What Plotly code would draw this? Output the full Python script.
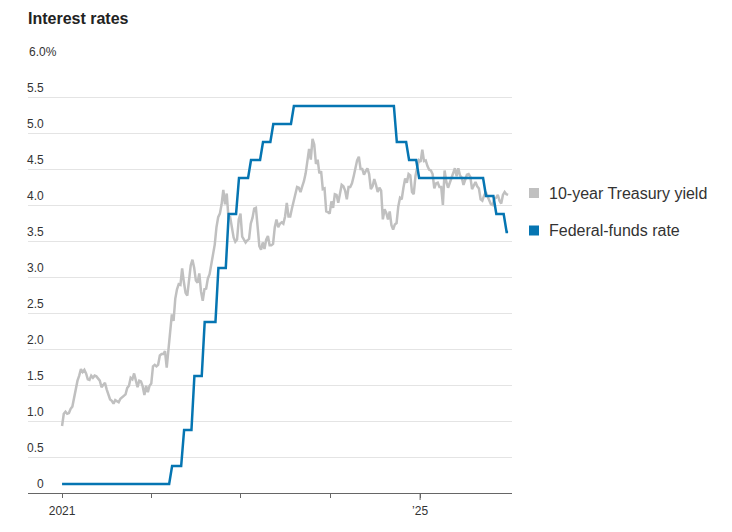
import plotly.graph_objects as go
import pandas as pd

# ---------------- data ----------------
TITLE = "Interest rates"
SERIES_NAMES = ["10-year Treasury yield", "Federal-funds rate"]

# weekly 10-year Treasury yield (Fridays), starting 2021-01-01
YIELD_START = "2021-01-01"
YIELD_2021 = [0.93, 1.10, 1.13, 1.10, 1.11, 1.17, 1.20, 1.34, 1.45, 1.56, 1.63, 1.72, 1.68,
              1.71, 1.66, 1.58, 1.57, 1.63, 1.60, 1.63, 1.62, 1.59, 1.56, 1.47, 1.50, 1.53,
              1.44, 1.36, 1.30, 1.28, 1.24, 1.29, 1.28, 1.26, 1.31, 1.33, 1.34, 1.37, 1.46,
              1.49, 1.60, 1.58, 1.66, 1.56, 1.47, 1.56, 1.55, 1.48, 1.36, 1.49, 1.40, 1.49, 1.52]
YIELD_2022 = [1.76, 1.78, 1.76, 1.78, 1.91, 1.93, 1.93, 1.97, 1.74, 1.99, 2.15, 2.48,
              2.39, 2.70, 2.83, 2.90, 2.89, 3.12, 2.93, 2.78, 2.74, 2.94, 3.16, 3.24, 3.13,
              2.95, 2.92, 3.05, 2.80, 2.67, 2.83, 2.84, 2.98, 3.04, 3.20, 3.31, 3.45, 3.69,
              3.83, 3.88, 4.01, 4.21, 4.01, 4.16, 3.82, 3.83, 3.68, 3.55, 3.49, 3.52, 3.80, 3.88]
YIELD_2023 = [3.56, 3.51, 3.48, 3.51, 3.53, 3.74, 3.82, 3.95, 3.96, 3.70, 3.43, 3.38, 3.48,
              3.39, 3.52, 3.57, 3.44, 3.44, 3.46, 3.69, 3.80, 3.69, 3.74, 3.76, 3.74, 3.84,
              4.03, 3.84, 3.84, 3.95, 4.05, 4.15, 4.25, 4.24, 4.18, 4.26, 4.33, 4.44, 4.58,
              4.78, 4.63, 4.92, 4.84, 4.57, 4.63, 4.44, 4.47, 4.22, 4.23, 3.91, 3.90, 3.88]
YIELD_2024 = [4.05, 3.96, 4.15, 4.14, 4.03, 4.18, 4.28, 4.26, 4.20, 4.08, 4.25, 4.25, 4.30,
              4.40, 4.50, 4.62, 4.67, 4.50, 4.50, 4.42, 4.47, 4.51, 4.43, 4.22, 4.26, 4.36,
              4.28, 4.18, 4.24, 4.20, 3.80, 3.94, 3.89, 3.80, 3.91, 3.72, 3.66, 3.73, 3.75,
              3.98, 4.10, 4.08, 4.24, 4.37, 4.31, 4.43, 4.41, 4.18, 4.15, 4.40, 4.52, 4.62]
YIELD_2025 = [4.60, 4.77, 4.61, 4.62, 4.54, 4.49, 4.48, 4.43, 4.23, 4.30, 4.31, 4.25, 4.25,
              4.00, 4.48, 4.32, 4.24, 4.31, 4.38, 4.43, 4.51, 4.40, 4.51, 4.41, 4.38, 4.28,
              4.35, 4.42, 4.43, 4.39, 4.22, 4.27, 4.32, 4.26, 4.23, 4.08, 4.06, 4.13, 4.18,
              4.12, 4.05, 4.01, 4.00, 4.09, 4.10, 4.14, 4.06, 4.02, 4.14, 4.18, 4.15, 4.14]

# federal-funds target (midpoint of range) and the dates it changed
FED_DATES = ["2021-01-01", "2022-03-17", "2022-05-05", "2022-06-16", "2022-07-28",
             "2022-09-22", "2022-11-03", "2022-12-15", "2023-02-02", "2023-03-23",
             "2023-05-04", "2023-07-27", "2024-09-19", "2024-11-08", "2024-12-19",
             "2025-09-18", "2025-10-30", "2025-12-11"]
FED_RATES = [0.125, 0.375, 0.875, 1.625, 2.375, 3.125, 3.875, 4.375, 4.625, 4.875,
             5.125, 5.375, 4.875, 4.625, 4.375, 4.125, 3.875, 3.625]
FED_END = "2025-12-26"

Y_TICKS = [0, 0.5, 1.0, 1.5, 2.0, 2.5, 3.0, 3.5, 4.0, 4.5, 5.0, 5.5, 6.0]
Y_TICK_LABELS = ["0", "0.5", "1.0", "1.5", "2.0", "2.5", "3.0", "3.5", "4.0", "4.5",
                 "5.0", "5.5", "6.0%"]
X_TICK_DATES = ["2021-01-01", "2022-01-01", "2023-01-01", "2024-01-01", "2025-01-01"]
X_TICK_LABELS = ["2021", "", "", "", "\u201925"]
X_RANGE = ["2020-08-15", "2026-01-11"]
LONG_TICK_DATE = "2025-01-01"

# ---------------- styles ----------------
GRAY = "#c0c0c0"
BLUE = "#0575b2"
TEXT = "#333333"
FONT = "Liberation Sans"
W, H = 732, 532
ML, MR, MT, MB = 28, 220, 61, 39
PW = W - ML - MR
PH = H - MT - MB


def px_x(px):
    return (px - ML) / PW


def px_y(py):
    return 1 - (py - MT) / PH


yield_values = YIELD_2021 + YIELD_2022 + YIELD_2023 + YIELD_2024 + YIELD_2025
yield_dates = pd.date_range(YIELD_START, periods=len(yield_values), freq="7D")

fed_x = [pd.Timestamp(FED_DATES[0])]
fed_y = [FED_RATES[0]]
for d, v in zip(FED_DATES[1:], FED_RATES[1:]):
    t = pd.Timestamp(d)
    fed_x += [t - pd.Timedelta(days=3), t + pd.Timedelta(days=9)]
    fed_y += [fed_y[-1], v]
fed_x.append(pd.Timestamp(FED_END))
fed_y.append(FED_RATES[-1])

fig = go.Figure()
fig.add_trace(go.Scatter(x=yield_dates, y=yield_values, mode="lines",
                         line=dict(color=GRAY, width=2.5), showlegend=False,
                         name=SERIES_NAMES[0]))
fig.add_trace(go.Scatter(x=fed_x, y=fed_y, mode="lines",
                         line=dict(color=BLUE, width=2.5), showlegend=False,
                         name=SERIES_NAMES[1]))

annotations = []
for v, lab in zip(Y_TICKS, Y_TICK_LABELS):
    if lab.endswith("%"):
        annotations.append(dict(x=0, xref="paper", xanchor="left", y=v, yref="y",
                                yanchor="bottom", text=lab, showarrow=False, xshift=-1,
                                font=dict(size=12, color=TEXT, family=FONT)))
    else:
        annotations.append(dict(x=px_x(46), xref="paper", xanchor="right", y=v,
                                yref="y", yanchor="bottom", text=lab, showarrow=False,
                                font=dict(size=12, color=TEXT, family=FONT)))

shapes = [dict(type="line", xref="x", x0=LONG_TICK_DATE, x1=LONG_TICK_DATE,
               yref="paper", ysizemode="pixel", yanchor=0, y0=0, y1=-7,
               line=dict(color="#666666", width=1))]

# legend (squares + labels)
for name, col, cy in [(SERIES_NAMES[0], GRAY, 193), (SERIES_NAMES[1], BLUE, 230.5)]:
    shapes.append(dict(type="rect", xref="paper", yref="paper",
                       x0=px_x(529), x1=px_x(539), y0=px_y(cy - 5), y1=px_y(cy + 5),
                       fillcolor=col, line=dict(width=0)))
    annotations.append(dict(x=px_x(547), xref="paper", xanchor="left",
                            y=px_y(cy), yref="paper", yanchor="middle", text=name,
                            showarrow=False, font=dict(size=16, color=TEXT, family=FONT)))

fig.update_layout(
    width=W, height=H,
    margin=dict(l=ML, r=MR, t=MT, b=MB),
    paper_bgcolor="white", plot_bgcolor="white",
    font=dict(family=FONT, color=TEXT),
    title=dict(text="<b>" + TITLE + "</b>", x=ML / W, xanchor="left",
               y=1 - 18 / H, yanchor="middle",
               font=dict(size=16, color="#222222", family=FONT)),
    showlegend=False,
    annotations=annotations,
    shapes=shapes,
    hovermode=False,
)
fig.update_xaxes(type="date", range=X_RANGE, tickvals=X_TICK_DATES, ticktext=X_TICK_LABELS,
                 ticks="outside", ticklen=4, tickcolor="#666666", tickwidth=1,
                 ticklabelstandoff=3,
                 showline=True, linecolor="#666666", linewidth=1, showgrid=False,
                 zeroline=False, tickfont=dict(size=12, color=TEXT, family=FONT))
fig.update_yaxes(range=[0, 6], tickvals=Y_TICKS, showticklabels=False, showgrid=True,
                 gridcolor="#e4e4e4", gridwidth=1, zeroline=False, ticks="")

fig.write_html("out.html", config={"displayModeBar": False},
               post_script="document.body.style.margin='0px';")
